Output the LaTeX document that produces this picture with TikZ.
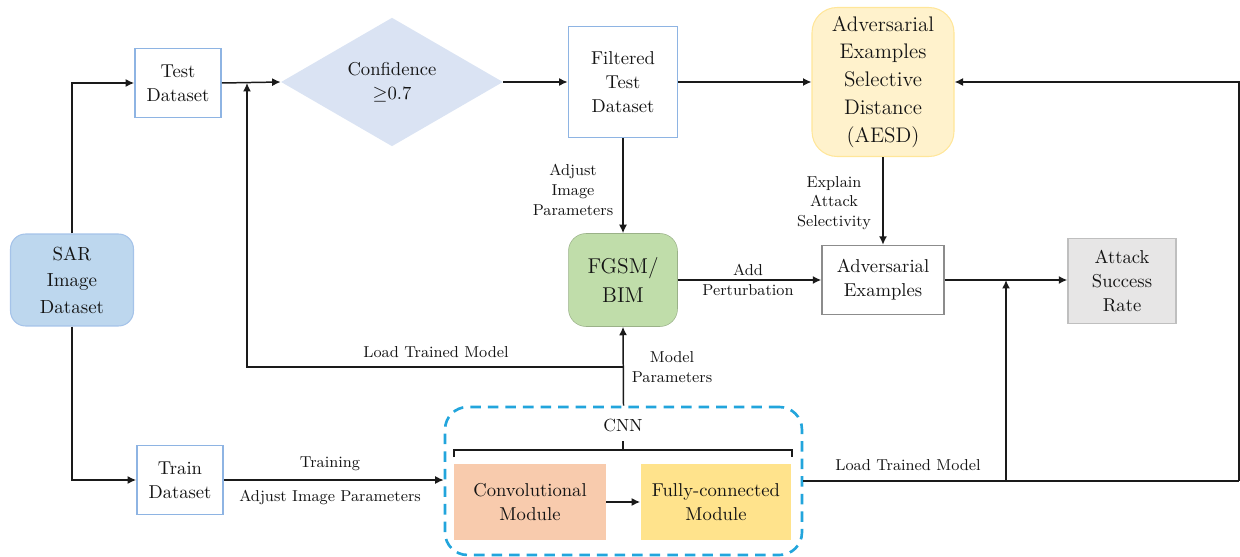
\documentclass[tikz,border=0pt]{standalone}
\usetikzlibrary{shapes.geometric,arrows.meta}
\definecolor{txt}{HTML}{141414}
\definecolor{ln}{HTML}{1A1A1A}
\definecolor{lblue}{HTML}{8EB4E3}
\definecolor{sarfill}{HTML}{BDD7EE}
\definecolor{diafill}{HTML}{DAE3F3}
\definecolor{aesdfill}{HTML}{FFF2CC}
\definecolor{aesdline}{HTML}{FFE699}
\definecolor{fgsmfill}{HTML}{C0DDAA}
\definecolor{advline}{HTML}{8C8C8C}
\definecolor{asrfill}{HTML}{E7E6E6}
\definecolor{asrline}{HTML}{BFBFBF}
\definecolor{convfill}{HTML}{F8CBAD}
\definecolor{fcfill}{HTML}{FFE38C}
\definecolor{cnnline}{HTML}{22A5DC}
\tikzset{
  every node/.style={text=txt, font=\fontsize{10.6}{13.6}\selectfont, align=center, inner sep=0pt},
  plainbox/.style={draw=lblue, line width=1pt, fill=white},
  bigfont/.style={font=\fontsize{12}{15.9}\selectfont},
  lbl/.style={font=\fontsize{9}{11.3}\selectfont},
  conn/.style={draw=ln, line width=0.85pt},
  arr/.style={conn, -{Latex[length=1.7mm,width=1.6mm]}}
}
\begin{document}
\begin{tikzpicture}[x=0.02cm,y=-0.02cm]
\useasboundingbox (0,0) rectangle (1240,557);

% nodes
\node[draw=lblue!80, line width=0.6pt, fill=sarfill, rounded corners=0.3cm,
      minimum width=2.46cm, minimum height=1.84cm, font=\fontsize{10.8}{15}\selectfont] (sar) at (72,280) {SAR\\Image\\Dataset};
\node[plainbox, minimum width=1.72cm, minimum height=1.38cm] (test) at (178,83) {Test\\Dataset};
\node[diamond, fill=diafill, minimum width=4.44cm, minimum height=1.7cm] (conf) at (392,82) {Confidence\\$\geq$0.7};
\node[plainbox, minimum width=2.18cm, minimum height=2.22cm] (filt) at (623,82) {Filtered\\Test\\Dataset};
\node[draw=aesdline, line width=0.6pt, fill=aesdfill, rounded corners=0.5cm, bigfont,
      minimum width=2.84cm, minimum height=2.98cm] (aesd) at (883,82) {Adversarial\\Examples\\Selective\\Distance\\(AESD)};
\node[draw=fgsmfill!80!black, line width=0.3pt, fill=fgsmfill, rounded corners=0.35cm,
      font=\fontsize{12.2}{16.4}\selectfont,
      minimum width=2.18cm, minimum height=1.86cm] (fgsm) at (623,280) {FGSM/\\BIM};
\node[draw=advline, line width=0.8pt, fill=white, minimum width=2.44cm, minimum height=1.38cm] (adv) at (883,280) {Adversarial\\Examples};
\node[draw=asrline, line width=0.8pt, fill=asrfill, minimum width=2.16cm, minimum height=1.7cm] (asr) at (1122,281) {Attack\\Success\\Rate};
\node[plainbox, minimum width=1.72cm, minimum height=1.38cm] (train) at (180,480) {Train\\Dataset};
\node[draw=cnnline, line width=1.5pt, dash pattern=on 6pt off 4pt, rounded corners=0.45cm,
      minimum width=7.14cm, minimum height=2.96cm] (cnn) at (623.5,481) {};
\node[fill=convfill, minimum width=3.04cm, minimum height=1.52cm] (conv) at (530,502) {Convolutional\\Module};
\node[fill=fcfill, minimum width=3.02cm, minimum height=1.52cm] (fc) at (716,502) {Fully-connected\\Module};
\node[font=\fontsize{10}{12}\selectfont] (cnnlbl) at (623,425) {CNN};

% brace
\draw[draw=ln, line width=0.6pt] (454,457) -- (454,450) -- (792,450) -- (792,457);
\draw[draw=ln, line width=0.6pt] (623,450) -- (623,441);

% helper coordinates
\coordinate (ltm) at (623,367);
\coordinate (jt) at (247,83);
\coordinate (re1) at (1239,82);
\coordinate (re2) at (1239,481);
\coordinate (jb) at (1006,481);

% connectors
\draw[arr] (sar.north) |- (test.west);
\draw[arr] (sar.south) |- (train.west);
\draw[arr] (test.east) -- (conf.west);
\draw[arr] (ltm) -| (jt);
\draw[arr] (conf.east) -- (filt.west);
\draw[arr] (filt.east) -- (aesd.west);
\draw[arr] (re2) -- (re1) -- (aesd.east);
\draw[arr] (filt.south) -- (fgsm.north);
\draw[arr] (aesd.south) -- (adv.north);
\draw[arr] (fgsm.east) -- (fgsm.east -| adv.west);
\draw[arr] (adv.east) -- (adv.east -| asr.west);
\draw[arr] (cnn.north) -- (fgsm.south);
\draw[arr] (train.east) -- (train.east -| cnn.west);
\draw[arr] (conv.east) -- (fc.west);
\draw[conn] (cnn.east) -- (re2);
\draw[arr] (jb) -- (jb |- adv.east);

% labels
\node[lbl] (l1) at (573,190) {Adjust\\Image\\Parameters};
\node[lbl] (l2) at (834,203) {Explain\\Attack\\Selectivity};
\node[lbl] (l3) at (748,270) {Add};
\node[lbl] (l4) at (748,290) {Perturbation};
\node[lbl] (l5) at (436,352) {Load Trained Model};
\node[lbl] (l6) at (672,367) {Model\\Parameters};
\node[lbl] (l7) at (330,464) {Training};
\node[lbl] (l8) at (330,497) {Adjust Image Parameters};
\node[lbl] (l9) at (908,465) {Load Trained Model};
\end{tikzpicture}
\end{document}
